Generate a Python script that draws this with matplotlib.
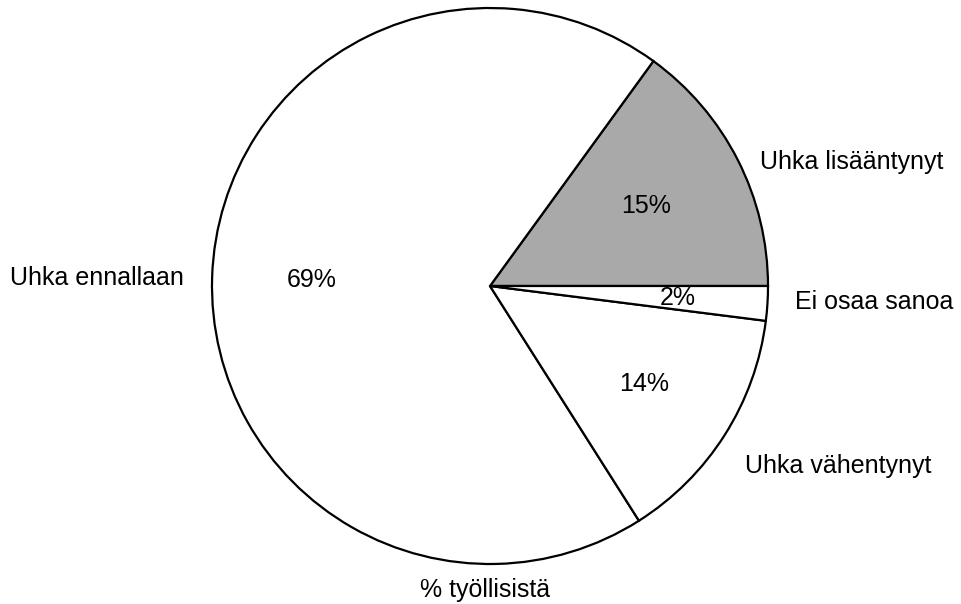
import matplotlib
matplotlib.use("Agg")
import matplotlib.pyplot as plt

categories = ["Uhka lisääntynyt", "Uhka ennallaan", "Uhka vähentynyt", "Ei osaa sanoa"]
values = [15, 69, 14, 2]
pct_labels = ["15%", "69%", "14%", "2%"]
title = "% työllisistä"

colors = ["#a9a9a9", "white", "white", "white"]
pct_dist = [0.63, 0.64, 0.655, 0.675]
# label anchor positions in pixels (left x, center y)
label_px = [(760, 162), (10, 278), (745, 466), (795, 302)]

W, H = 961, 604
CX, CY, R = 490, 286, 278

plt.rcParams['font.family'] = ['Liberation Sans', 'DejaVu Sans']
fig = plt.figure(figsize=(W / 100, H / 100), dpi=100)
ax = fig.add_axes([0, 0, 1, 1])

wedges, _ = ax.pie(values, colors=colors, startangle=0, counterclock=True,
                   radius=1.0,
                   wedgeprops=dict(edgecolor="black", linewidth=1.6))

import math
total = sum(values)
ang = 0.0
for v, t, d in zip(values, pct_labels, pct_dist):
    a0 = ang
    ang += 360.0 * v / total
    mid = math.radians((a0 + ang) / 2)
    ax.text(d * math.cos(mid), d * math.sin(mid), t, ha="center", va="center",
            fontsize=18, color="black")

def px2data(px, py):
    return (px - CX) / R, (CY - py) / R

for name, (px, py) in zip(categories, label_px):
    x, y = px2data(px, py)
    ax.text(x, y, name, ha="left", va="center", fontsize=18, color="black")

tx, ty = px2data(485, 590)
ax.text(tx, ty, title, ha="center", va="center", fontsize=18, color="black")

ax.set_xlim(-CX / R, (W - CX) / R)
ax.set_ylim((CY - H) / R, CY / R)
ax.set_aspect("equal", adjustable="box")
ax.axis("off")

fig.savefig("out.png", dpi=100, facecolor="white")
